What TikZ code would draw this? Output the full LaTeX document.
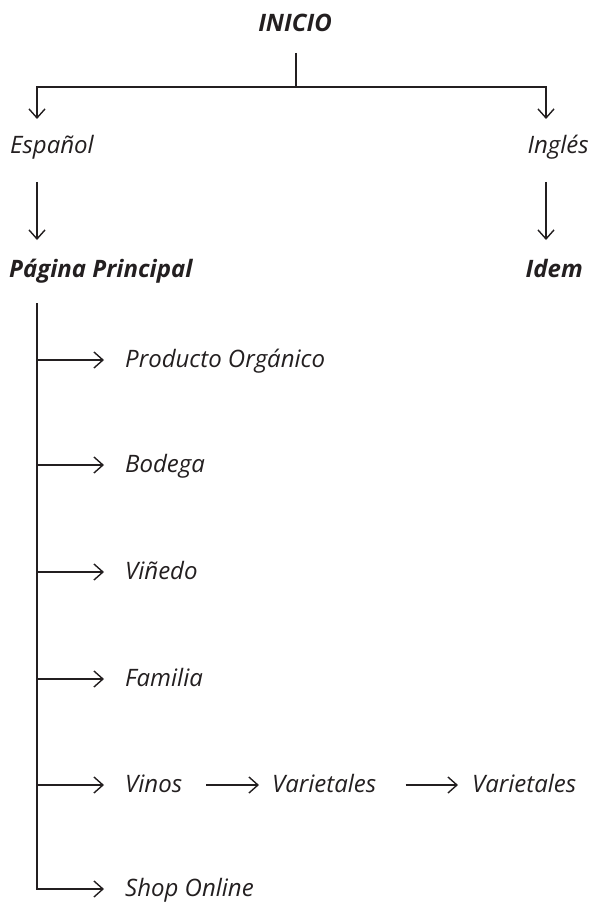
\documentclass[tikz,border=0pt]{standalone}
\usepackage{fontspec}
\setmainfont{Open Sans}
\usetikzlibrary{arrows.meta}
\definecolor{ink}{HTML}{231F20}
\begin{document}
\begin{tikzpicture}[x=1pt,y=-1pt,
  lbl/.style={inner sep=0pt, font=\fontsize{24}{28}\selectfont\itshape, text=ink},
  blbl/.style={lbl, font=\fontsize{24}{28}\selectfont\bfseries\itshape},
  item/.style={lbl, anchor=base west},
  ln/.style={line width=1.7pt, ink},
  arr/.style={ln, -{Straight Barb[length=9pt,width=16pt,line width=1.4pt]}}]
\useasboundingbox (0,0) rectangle (595,912);
% nodes
\node[blbl, anchor=base] (inicio) at (295,32) {INICIO};
\node[lbl, anchor=base west] (esp) at (10,154) {Español};
\node[lbl, anchor=base east] (ing) at (589,154) {Inglés};
\node[blbl, anchor=base west] (pp) at (9,277) {Página Principal};
\node[blbl, anchor=base east] (idem) at (583,277) {Idem};
\node[item] (prod) at (125,367) {Producto Orgánico};
\node[item] (bod) at (125,472) {Bodega};
\node[item] (vin) at (125,579) {Viñedo};
\node[item] (fam) at (125,686) {Familia};
\node[item] (vinos) at (125,792) {Vinos};
\node[item] (var1) at (272,792) {Varietales};
\node[item] (var2) at (472,792) {Varietales};
\node[item] (shop) at (125,896) {Shop Online};
% coordinates
\coordinate (itop) at (296,53);
\coordinate (j0) at (296,87);
\coordinate (eTip) at (37,119);
\coordinate (iTip) at (546,119);
\coordinate (e1) at (37,182);
\coordinate (e2) at (37,240);
\coordinate (i1) at (546,182);
\coordinate (i2) at (546,240);
\coordinate (sTop) at (37,303);
\foreach \n in {prod,bod,vin,fam,vinos,var1,var2,shop}{
  \coordinate (\n-w) at ([yshift=7pt]\n.base west);
  \coordinate (\n-e) at ([yshift=7pt]\n.base east);
}
% connectors
\draw[ln] (itop) -- (j0);
\draw[arr] (j0) -| (eTip);
\draw[arr] (j0) -| (iTip);
\draw[arr] (e1) -- (e2);
\draw[arr] (i1) -- (i2);
\draw[arr, shorten >=21pt] (sTop) |- (shop-w);
\foreach \n in {prod,bod,vin,fam,vinos}
  \draw[arr, shorten >=21pt] (sTop |- \n-w) -- (\n-w);
\draw[arr, shorten <=24pt, shorten >=13pt] (vinos-e) -- (var1-w);
\draw[arr, shorten <=29pt, shorten >=14pt] (var1-e) -- (var2-w);
\end{tikzpicture}
\end{document}
